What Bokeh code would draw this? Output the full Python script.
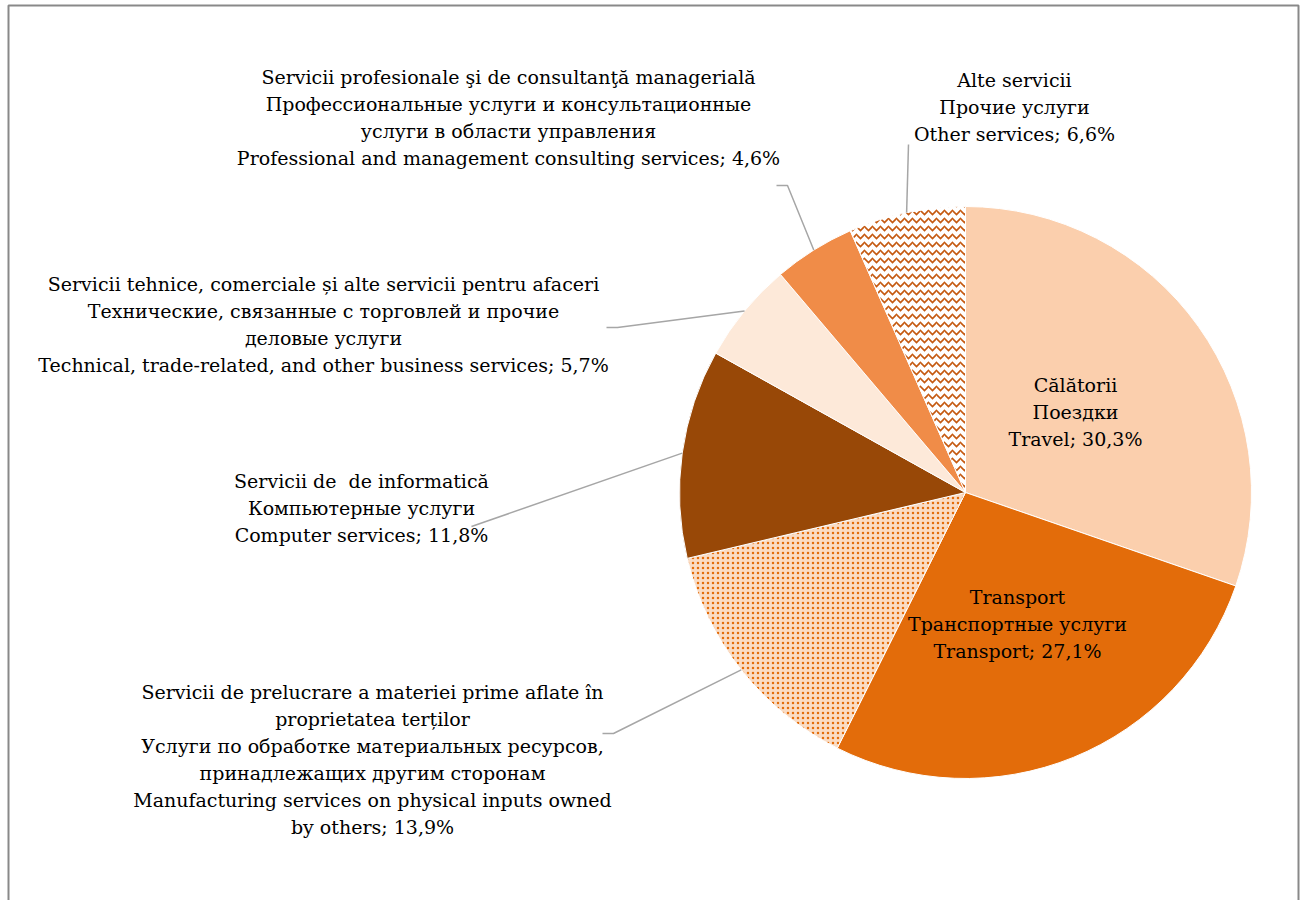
import math
from bokeh.plotting import figure
from bokeh.models import Range1d
from bokeh.core.properties import value
from bokeh.embed import file_html
from bokeh.resources import INLINE

# ---- data ----
categories = [
    "Călătorii\nПоездки\nTravel",
    "Transport\nТранспортные услуги\nTransport",
    "Servicii de prelucrare a materiei prime aflate în\nproprietatea terților\nУслуги по обработке материальных ресурсов,\nпринадлежащих другим сторонам\nManufacturing services on physical inputs owned\nby others",
    "Servicii de\u00a0 de informatică\nКомпьютерные услуги\nComputer services",
    "Servicii tehnice, comerciale și alte servicii pentru afaceri\nТехнические, связанные с торговлей и прочие\nделовые услуги\nTechnical, trade-related, and other business services",
    "Servicii profesionale şi de consultanţă managerială\nПрофессиональные услуги и консультационные\nуслуги в области управления\nProfessional and management consulting services",
    "Alte servicii\nПрочие услуги\nOther services",
]
shares = [30.3, 27.1, 13.9, 11.8, 5.7, 4.6, 6.6]

# ---- styles ----
colors = ["#FBCFAD", "#E36C0A", "#FADCC4", "#984807", "#FDE9D9", "#F08C48", "white"]
patterns = [None, None, ("dot", 5, 2.4, "#E36C0A"), None, None, None,
            ("horizontal_wave", 8, 1.7, "#C55A11")]

W, H = 1300, 900
OX, OY = 1, 1
def sy(y):  # screen y -> data y
    return OY + H - (y - OY)

p = figure(width=W, height=H, output_backend="svg", toolbar_location=None,
           x_range=Range1d(OX, OX + W), y_range=Range1d(OY, OY + H),
           min_border=0, outline_line_color=None)
p.axis.visible = False
p.grid.visible = False
p.background_fill_color = "white"

# frame (left, top, right)
p.line([9, 9, 1299, 1299], [sy(920), sy(6), sy(6), sy(920)], line_color="#898989", line_width=2)

cx, cy, R = 966, 493, 286
total = sum(shares)
cum = 0.0
mids = []
for i, s in enumerate(shares):
    a0 = math.pi / 2 - 2 * math.pi * cum / total
    a1 = math.pi / 2 - 2 * math.pi * (cum + s) / total
    mids.append(math.pi / 2 - 2 * math.pi * (cum + s / 2) / total)
    cum += s
    if patterns[i] is None:
        p.wedge(x=cx, y=sy(cy), radius=R, start_angle=a0, end_angle=a1, direction="clock",
                fill_color=colors[i], line_color="white", line_width=1)
    else:
        pat, sc, wt, hc = patterns[i]
        p.wedge(x=cx, y=sy(cy), radius=R, start_angle=a0, end_angle=a1, direction="clock",
                fill_color=colors[i], line_color="white", line_width=1,
                hatch_pattern=pat, hatch_scale=sc, hatch_weight=wt, hatch_color=hc)

# label layout: (center x, first line y, leader polyline start points)
label_pos = [
    (1076, 385, None),
    (1018, 597, None),
    (373, 692, [(603, 734), (614, 734)]),
    (362, 481, [(472, 527)]),
    (324, 284, [(607, 328), (618, 328)]),
    (509, 77, [(777, 186), (788, 186)]),
    (1015, 80, [(909, 145)]),
]
LH = 27
for i, cat in enumerate(categories):
    lines = cat.split("\n")
    lines[-1] = lines[-1] + "; " + ("%.1f" % shares[i]).replace(".", ",") + "%"
    x0, y0, lead = label_pos[i]
    p.text(x=[x0] * len(lines), y=[sy(y0 + k * LH) for k in range(len(lines))], text=lines,
           text_align="center", text_baseline="middle", text_font=value("DejaVu Serif"),
           text_font_size="19px", text_color="#000000")
    if lead:
        ex = cx + R * math.cos(mids[i])
        ey = cy - R * math.sin(mids[i])
        xs = [q[0] for q in lead] + [ex]
        ys = [sy(q[1]) for q in lead] + [sy(ey)]
        p.line(xs, ys, line_color="#A6A6A6", line_width=1.5)

open("out.html", "w").write(file_html(p, INLINE))
